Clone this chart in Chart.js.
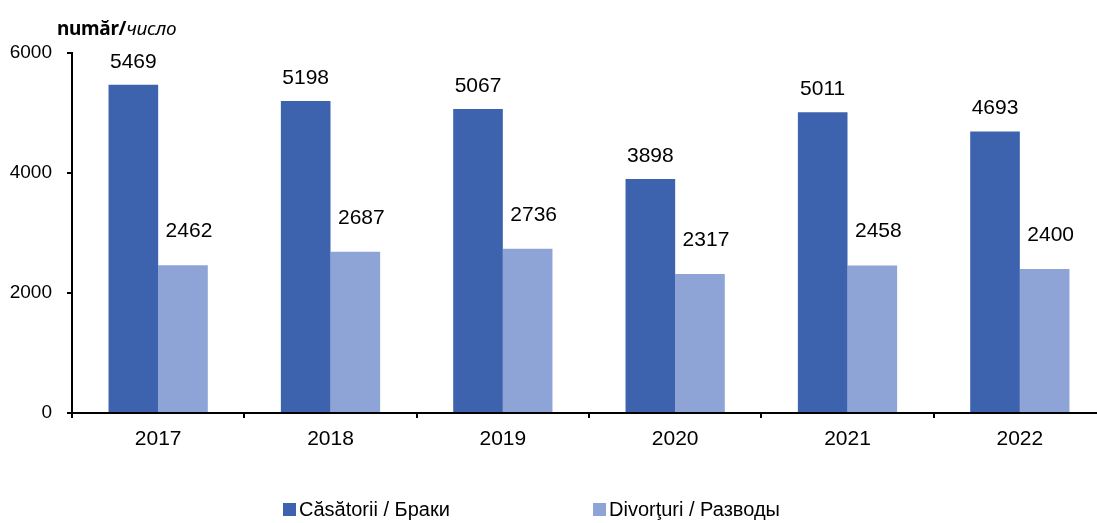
<!DOCTYPE html>
<html>
<head>
<meta charset="utf-8">
<script src="https://cdn.jsdelivr.net/npm/chart.js@4.4.1/dist/chart.umd.min.js"></script>
<style>
	html, body { margin: 0; padding: 0; background: #fff; overflow: hidden; }
	#wrap { position: relative; width: 1097px; height: 523px; overflow: hidden; }
	#box { position: absolute; left: 0; top: 0; width: 1106px; height: 523px; }
	#unit { position: absolute; left: 57px; top: 15px; font-family: "Noto Sans", sans-serif; font-size: 19px; color: #000; letter-spacing: -0.3px; }
	#unit b { font-weight: 700; }
	#unit i { font-style: italic; }
	#legend { position: absolute; top: 498px; left: 0; width: 1097px; font-family: "Liberation Sans", Arial, sans-serif; font-size: 20px; color: #000; }
	.item { position: absolute; display: flex; align-items: center; white-space: nowrap; }
	.swatch { width: 13px; height: 13px; margin-right: 3px; }
</style>
</head>
<body>
<div id="wrap">
	<div id="box"><canvas id="chart"></canvas></div>
	<div id="unit"><b>număr/</b><i>число</i></div>
	<div id="legend"></div>
</div>
<script>
const years = ["2017", "2018", "2019", "2020", "2021", "2022"];
const marriages = [5469, 5198, 5067, 3898, 5011, 4693];
const divorces = [2462, 2687, 2736, 2317, 2458, 2400];
const yTicks = [0, 2000, 4000, 6000];
const seriesNames = ["Căsătorii / Браки", "Divorţuri / Разводы"];
const seriesColors = ["#3D63AE", "#8FA4D6"];

// labels over the bars, lighter series sits a bit higher and to the right
const labelOffsets = [{ dx: 0, dy: 23 }, { dx: 6, dy: 34 }];

const valueLabels = {
	id: "valueLabels",
	afterDatasetsDraw(chart) {
		const ctx = chart.ctx;
		ctx.save();
		ctx.font = "21px 'Liberation Sans', Arial, sans-serif";
		ctx.fillStyle = "#000";
		ctx.textAlign = "center";
		ctx.textBaseline = "middle";
		chart.data.datasets.forEach((ds, i) => {
			const meta = chart.getDatasetMeta(i);
			meta.data.forEach((bar, j) => {
				const off = labelOffsets[i];
				ctx.fillText(String(ds.data[j]), bar.x + off.dx, bar.y - off.dy);
			});
		});
		ctx.restore();
	},
};

const ctx = document.getElementById("chart").getContext("2d");
const myChart = new Chart(ctx, {
	type: "bar",
	data: {
		labels: years,
		datasets: [
			{ label: seriesNames[0], data: marriages, backgroundColor: seriesColors[0] },
			{ label: seriesNames[1], data: divorces, backgroundColor: seriesColors[1] },
		],
	},
	options: {
		responsive: true,
		maintainAspectRatio: false,
		animation: false,
		layout: { padding: { left: 0, right: 0, top: 53, bottom: 70 } },
		plugins: { legend: { display: false }, tooltip: { enabled: false } },
		datasets: { bar: { categoryPercentage: 0.576, barPercentage: 1 } },
		scales: {
			x: {
				grid: { drawOnChartArea: false, drawTicks: true, tickLength: 5, color: "#000", lineWidth: 2 },
				border: { color: "#000", width: 2 },
				ticks: { color: "#000", font: { family: "'Liberation Sans', Arial, sans-serif", size: 21 }, padding: 9 },
				afterFit: axis => { axis.height = 40; },
			},
			y: {
				min: 0,
				max: 6000,
				afterBuildTicks: axis => { axis.ticks = yTicks.map(v => ({ value: v })); },
				afterFit: axis => { axis.width = 72; },
				grid: { drawOnChartArea: false, drawTicks: true, tickLength: 5, color: "#000", lineWidth: 2 },
				border: { color: "#000", width: 2 },
				ticks: {
					color: "#000",
					font: { family: "'Liberation Sans', Arial, sans-serif", size: 19 },
					padding: 15,
					callback: v => String(v),
				},
			},
		},
	},
	plugins: [valueLabels],
});

// legend in html so the two items can sit far apart like the original
const legendX = [283, 593];
const legend = document.getElementById("legend");
seriesNames.forEach((name, i) => {
	const item = document.createElement("div");
	item.className = "item";
	item.style.left = legendX[i] + "px";
	item.innerHTML = `<span class="swatch" style="background:${seriesColors[i]}"></span><span>${name}</span>`;
	legend.append(item);
});
</script>
</body>
</html>
